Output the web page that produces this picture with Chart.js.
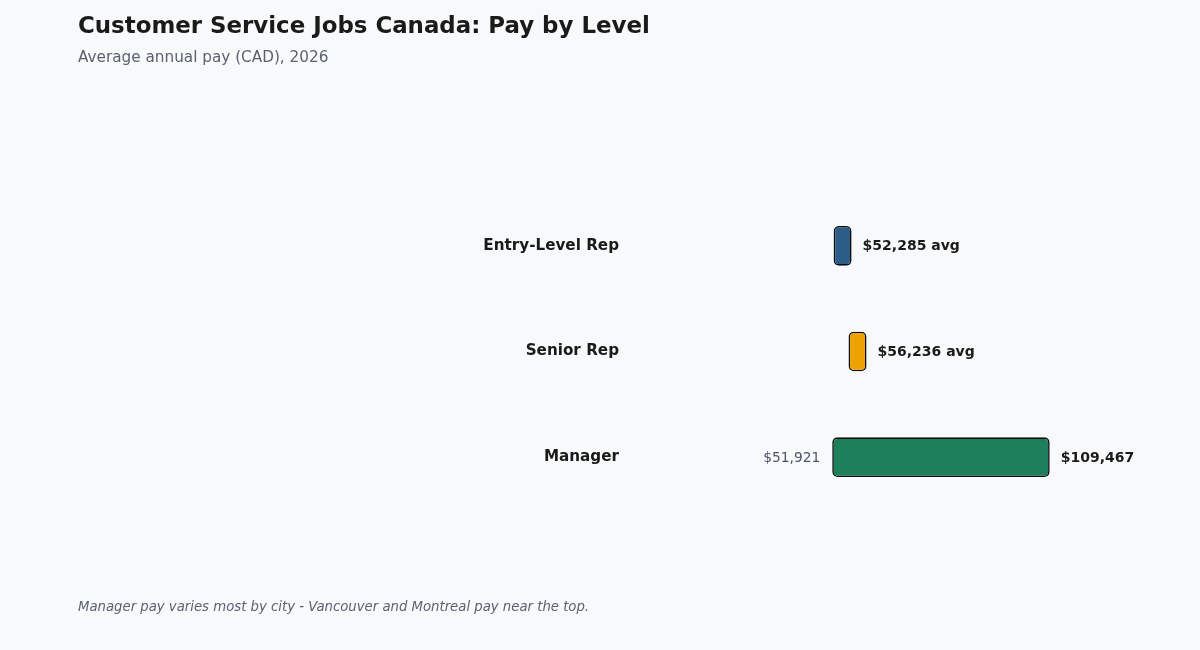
<!DOCTYPE html>
<html>
<head>
<meta charset="utf-8">
<script src="https://cdn.jsdelivr.net/npm/chart.js@4.4.1/dist/chart.umd.min.js"></script>
<style>
  html, body { margin: 0; padding: 0; background: #f8f9fb; }
  #wrap { position: relative; width: 1200px; height: 650px; font-family: "DejaVu Sans", sans-serif; }
  #chart { position: absolute; left: 0; top: 0; }
  .txt { position: absolute; left: 78px; white-space: nowrap; line-height: 1; }
  #title { top: 14px; font-size: 22.9px; font-weight: bold; color: #1a1a1a; }
  #subtitle { top: 50px; font-size: 15.25px; color: #5a6270; }
  #note { top: 600px; font-size: 13.25px; font-style: italic; color: #5a6270; }
</style>
</head>
<body>
<div id="wrap">
  <canvas id="chart" width="1200" height="650"></canvas>
  <div class="txt" id="title">Customer Service Jobs Canada: Pay by Level</div>
  <div class="txt" id="subtitle">Average annual pay (CAD), 2026</div>
  <div class="txt" id="note">Manager pay varies most by city - Vancouver and Montreal pay near the top.</div>
</div>
<script>
// Datos del gráfico
const levels = ["Entry-Level Rep", "Senior Rep", "Manager"];
const payLow = [52285, 56236, 51921];
const payHigh = [52285, 56236, 109467];
const barColors = ["#2c5d88", "#eea200", "#1c805b"];

// Etiquetas de valor junto a cada barra
const valueLabels = {
    id: "valueLabels",
    afterDatasetsDraw(chart) {
        const ctx = chart.ctx;
        const meta = chart.getDatasetMeta(0);
        meta.data.forEach((bar, i) => {
            const left = Math.min(bar.x, bar.base);
            const right = Math.max(bar.x, bar.base);
            ctx.save();
            ctx.textBaseline = "middle";
            const isRange = payLow[i] !== payHigh[i];
            ctx.font = "bold 14px 'DejaVu Sans'";
            ctx.fillStyle = "#1a1a1a";
            ctx.textAlign = "left";
            const txt = "$" + payHigh[i].toLocaleString("en-US") + (isRange ? "" : " avg");
            ctx.fillText(txt, right + 11, bar.y + 1);
            if (isRange) {
                ctx.font = "13.8px 'DejaVu Sans'";
                ctx.fillStyle = "#4a5568";
                ctx.textAlign = "right";
                ctx.fillText("$" + payLow[i].toLocaleString("en-US"), left - 12, bar.y + 1);
            }
            ctx.restore();
        });
    }
};

new Chart(document.getElementById("chart"), {
    type: "bar",
    data: {
        labels: levels,
        datasets: [{
            data: levels.map((_, i) => [payLow[i], payHigh[i]]),
            backgroundColor: barColors,
            borderColor: "#0d0d0d",
            borderWidth: 1.6,
            borderRadius: 5,
            borderSkipped: false,
            minBarLength: 18,
            barPercentage: 0.375,
            categoryPercentage: 1
        }]
    },
    options: {
        indexAxis: "y",
        responsive: false,
        animation: false,
        layout: { padding: { top: 193, bottom: 140, left: 0, right: 16 } },
        plugins: { legend: { display: false }, tooltip: { enabled: false } },
        scales: {
            x: {
                min: 0,
                max: 145000,
                display: false
            },
            y: {
                grid: { display: false, drawTicks: false },
                border: { display: false },
                ticks: {
                    padding: 17,
                    color: "#1a1a1a",
                    font: { family: "DejaVu Sans", size: 15.2, weight: "bold" }
                },
                afterFit(scale) { scale.width = 636; }
            }
        }
    },
    plugins: [valueLabels]
});
</script>
</body>
</html>
